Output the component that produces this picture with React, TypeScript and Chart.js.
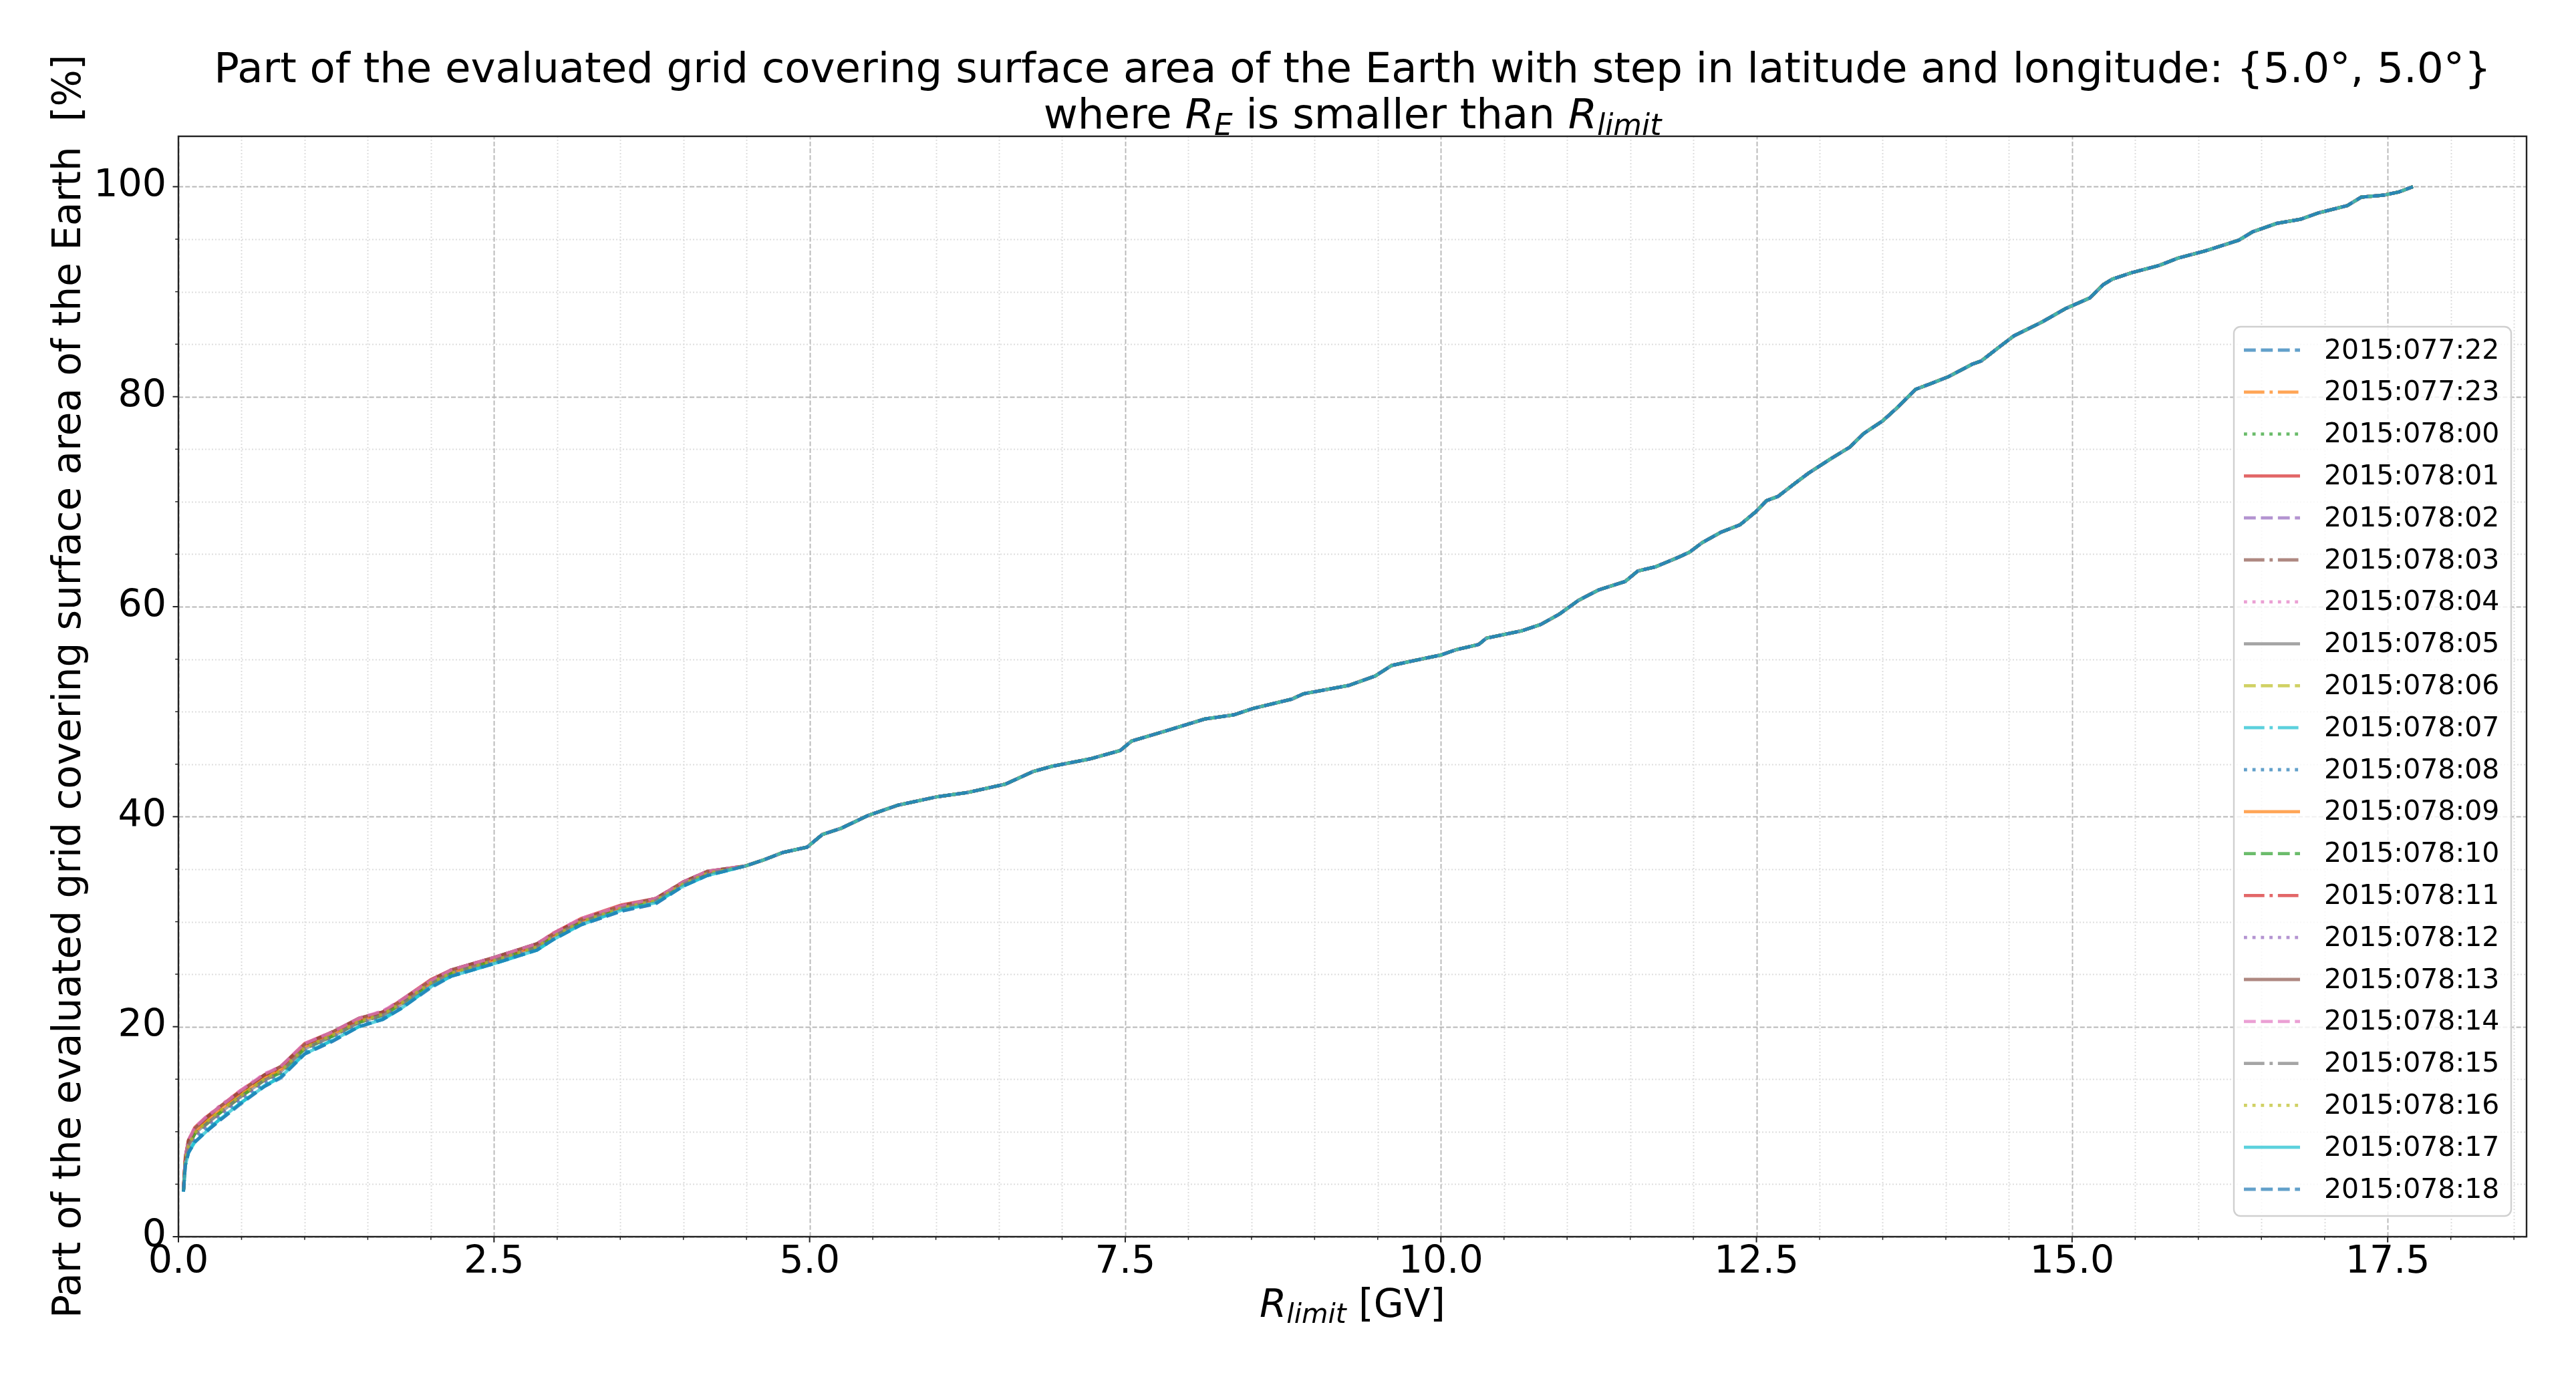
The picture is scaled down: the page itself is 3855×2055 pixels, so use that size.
import React, { useEffect, useRef } from 'react';
import { Chart, registerables } from 'chart.js';

Chart.register(...registerables);

const W = 3855;
const H = 2055;

// ---------------- DATA ----------------
const seriesLabels = [
  '2015:077:22', '2015:077:23', '2015:078:00', '2015:078:01', '2015:078:02', '2015:078:03',
  '2015:078:04', '2015:078:05', '2015:078:06', '2015:078:07', '2015:078:08', '2015:078:09',
  '2015:078:10', '2015:078:11', '2015:078:12', '2015:078:13', '2015:078:14', '2015:078:15',
  '2015:078:16', '2015:078:17', '2015:078:18',
];

// R_limit [GV] sample positions shared by every series
const rLimit = [
  0.04, 0.055, 0.08, 0.13, 0.21, 0.32, 0.49, 0.68, 0.81, 1.0, 1.22, 1.43, 1.62, 1.76, 2.0, 2.16,
  2.5, 2.84, 2.97, 3.19, 3.51, 3.78, 4.0, 4.19,
  4.49, 4.64, 4.79, 4.98, 5.1, 5.25, 5.46, 5.7, 6.01, 6.25, 6.55, 6.77, 6.92, 7.22, 7.46, 7.55,
  7.83, 8.13, 8.36, 8.51, 8.82, 8.91, 9.27, 9.48, 9.61, 9.76, 10.0, 10.12, 10.3, 10.36, 10.64,
  10.79, 10.94, 11.09, 11.25, 11.46, 11.56, 11.7, 11.88, 11.97, 12.07, 12.22, 12.37, 12.49,
  12.58, 12.67, 12.8, 12.91, 13.09, 13.24, 13.35, 13.5, 13.61, 13.76, 13.87, 14.02, 14.21,
  14.28, 14.43, 14.54, 14.76, 14.95, 15.14, 15.25, 15.32, 15.47, 15.69, 15.84, 16.06, 16.32,
  16.43, 16.62, 16.81, 16.95, 17.18, 17.29, 17.47, 17.59, 17.7,
];

// central curve [%]
const coverageBase = [
  4.4, 7.2, 8.6, 9.7, 10.6, 11.7, 13.3, 14.9, 15.7, 17.9, 19.1, 20.4, 21.1, 22.1, 24.1, 25.1,
  26.3, 27.6, 28.6, 30.0, 31.3, 32.0, 33.6, 34.6,
  35.3, 35.9, 36.6, 37.1, 38.3, 38.9, 40.1, 41.1, 41.9, 42.3, 43.1, 44.3, 44.8, 45.5, 46.3, 47.2,
  48.2, 49.3, 49.7, 50.3, 51.2, 51.7, 52.5, 53.4, 54.4, 54.8, 55.4, 55.9, 56.4, 57.0, 57.7,
  58.3, 59.3, 60.6, 61.6, 62.4, 63.4, 63.8, 64.7, 65.2, 66.1, 67.1, 67.8, 69.0,
  70.1, 70.5, 71.7, 72.7, 74.1, 75.2, 76.5, 77.7, 78.9, 80.7, 81.2, 81.9, 83.1,
  83.4, 84.8, 85.8, 87.1, 88.4, 89.4, 90.7, 91.2, 91.8, 92.5, 93.2, 93.9, 94.9,
  95.7, 96.5, 96.9, 97.5, 98.2, 99.0, 99.2, 99.5, 100.0,
];

// per-series departure from the central curve at low rigidity (first points), [%]
const dev_077_22 = [-0.1, -0.4, -0.6, -0.7, -0.7, -0.7, -0.6, -0.6, -0.5, -0.5, -0.5, -0.4, -0.4, -0.4, -0.3, -0.3, -0.3, -0.3, -0.3, -0.3, -0.3, -0.3, -0.2, -0.2];
const dev_077_23 = [0.1, 0.3, 0.5, 0.5, 0.5, 0.5, 0.4, 0.4, 0.4, 0.3, 0.3, 0.3, 0.3, 0.3, 0.2, 0.2, 0.2, 0.2, 0.2, 0.2, 0.2, 0.1, 0.1, 0.1];
const dev_078_00 = [0.0, 0.2, 0.4, 0.4, 0.4, 0.4, 0.3, 0.3, 0.3, 0.3, 0.3, 0.2, 0.2, 0.3, 0.2, 0.2, 0.2, 0.2, 0.2, 0.2, 0.1, 0.1, 0.1, 0.1];
const dev_078_01 = [0.1, 0.4, 0.6, 0.7, 0.7, 0.6, 0.6, 0.5, 0.5, 0.5, 0.4, 0.4, 0.3, 0.4, 0.4, 0.3, 0.3, 0.3, 0.3, 0.3, 0.3, 0.2, 0.2, 0.2];
const dev_078_02 = [0.0, 0.1, 0.1, 0.2, 0.1, 0.1, 0.1, 0.1, 0.1, 0.1, 0.0, 0.0, 0.1, 0.1, 0.0, 0.0, 0.0, 0.0, 0.1, 0.0, 0.0, 0.0, 0.0, 0.0];
const dev_078_03 = [0.1, 0.4, 0.6, 0.6, 0.6, 0.6, 0.5, 0.5, 0.5, 0.4, 0.4, 0.3, 0.3, 0.4, 0.3, 0.3, 0.3, 0.3, 0.3, 0.2, 0.2, 0.2, 0.2, 0.2];
const dev_078_04 = [0.1, 0.4, 0.6, 0.7, 0.7, 0.7, 0.6, 0.6, 0.5, 0.5, 0.4, 0.4, 0.4, 0.4, 0.3, 0.3, 0.3, 0.3, 0.3, 0.3, 0.2, 0.2, 0.2, 0.2];
const dev_078_05 = [0.0, 0.0, 0.1, 0.1, 0.1, 0.0, 0.0, 0.0, 0.0, 0.0, 0.0, 0.0, 0.0, 0.0, 0.0, 0.0, 0.0, 0.0, 0.0, 0.0, 0.0, 0.0, 0.0, 0.0];
const dev_078_06 = [0.0, 0.1, 0.2, 0.2, 0.2, 0.1, 0.1, 0.1, 0.1, 0.1, 0.1, 0.1, 0.0, 0.1, 0.1, 0.0, 0.0, 0.1, 0.0, 0.0, 0.0, 0.0, 0.0, 0.0];
const dev_078_07 = [-0.1, -0.4, -0.5, -0.6, -0.6, -0.6, -0.6, -0.5, -0.5, -0.4, -0.4, -0.4, -0.3, -0.4, -0.3, -0.3, -0.3, -0.3, -0.3, -0.2, -0.2, -0.2, -0.2, -0.2];
const dev_078_08 = [-0.1, -0.2, -0.3, -0.4, -0.4, -0.4, -0.3, -0.3, -0.3, -0.3, -0.2, -0.2, -0.2, -0.2, -0.2, -0.2, -0.2, -0.1, -0.1, -0.1, -0.1, -0.1, -0.1, -0.1];
const dev_078_09 = [0.0, 0.2, 0.3, 0.3, 0.3, 0.3, 0.3, 0.2, 0.2, 0.2, 0.2, 0.2, 0.2, 0.2, 0.1, 0.1, 0.1, 0.1, 0.1, 0.1, 0.1, 0.1, 0.1, 0.0];
const dev_078_10 = [0.0, 0.0, 0.0, 0.1, 0.0, 0.0, 0.0, 0.0, -0.1, 0.0, 0.0, 0.0, 0.0, 0.0, 0.0, 0.0, 0.0, 0.0, 0.0, 0.0, 0.0, 0.0, 0.0, 0.0];
const dev_078_11 = [0.1, 0.3, 0.5, 0.6, 0.6, 0.6, 0.5, 0.5, 0.4, 0.4, 0.4, 0.3, 0.3, 0.3, 0.3, 0.3, 0.2, 0.2, 0.3, 0.2, 0.2, 0.2, 0.2, 0.1];
const dev_078_12 = [0.0, -0.1, -0.1, -0.1, -0.1, -0.1, -0.1, -0.1, 0.0, 0.0, 0.0, 0.0, 0.0, 0.0, 0.0, 0.0, 0.0, 0.0, 0.0, 0.0, 0.0, 0.0, 0.0, 0.0];
const dev_078_13 = [0.1, 0.4, 0.5, 0.6, 0.6, 0.6, 0.5, 0.5, 0.5, 0.4, 0.4, 0.4, 0.3, 0.3, 0.3, 0.3, 0.3, 0.3, 0.2, 0.2, 0.2, 0.2, 0.2, 0.2];
const dev_078_14 = [0.1, 0.4, 0.6, 0.7, 0.7, 0.6, 0.6, 0.6, 0.5, 0.5, 0.4, 0.4, 0.4, 0.4, 0.3, 0.3, 0.3, 0.3, 0.3, 0.3, 0.2, 0.2, 0.2, 0.2];
const dev_078_15 = [0.0, 0.0, 0.1, 0.0, 0.0, 0.0, 0.0, 0.0, 0.0, 0.0, 0.0, 0.0, 0.0, 0.0, 0.0, 0.0, 0.0, 0.0, 0.0, 0.0, 0.0, 0.0, 0.0, 0.0];
const dev_078_16 = [0.0, 0.1, 0.1, 0.2, 0.2, 0.2, 0.1, 0.1, 0.1, 0.1, 0.1, 0.1, 0.1, 0.1, 0.1, 0.0, 0.0, 0.0, 0.0, 0.0, 0.0, 0.0, 0.0, 0.0];
const dev_078_17 = [-0.1, -0.4, -0.6, -0.7, -0.7, -0.6, -0.6, -0.6, -0.5, -0.5, -0.4, -0.4, -0.4, -0.4, -0.3, -0.3, -0.3, -0.3, -0.3, -0.3, -0.2, -0.2, -0.2, -0.2];
const dev_078_18 = [-0.1, -0.4, -0.6, -0.7, -0.7, -0.7, -0.7, -0.6, -0.6, -0.5, -0.5, -0.4, -0.4, -0.4, -0.4, -0.3, -0.3, -0.3, -0.3, -0.3, -0.3, -0.3, -0.2, -0.2];

const lowRangeDeviation = [
  dev_077_22, dev_077_23, dev_078_00, dev_078_01, dev_078_02, dev_078_03, dev_078_04,
  dev_078_05, dev_078_06, dev_078_07, dev_078_08, dev_078_09, dev_078_10, dev_078_11,
  dev_078_12, dev_078_13, dev_078_14, dev_078_15, dev_078_16, dev_078_17, dev_078_18,
];

const xMajorTicks = [0, 2.5, 5, 7.5, 10, 12.5, 15, 17.5];
const xTickLabels = ['0.0', '2.5', '5.0', '7.5', '10.0', '12.5', '15.0', '17.5'];
const yMajorTicks = [0, 20, 40, 60, 80, 100];
const yTickLabels = ['0', '20', '40', '60', '80', '100'];
const X_MIN = 0;
const X_MAX = 18.6;
const Y_MIN = 0;
const Y_MAX = 104.8;
const X_MINOR_STEP = 0.5;
const Y_MINOR_STEP = 5;

const titleLine1 =
  'Part of the evaluated grid covering surface area of the Earth with step in latitude and longitude: {5.0°, 5.0°}';
const yAxisTitle = 'Part of the evaluated grid covering surface area of the Earth  [%]';

// ---------------- STYLE ----------------
const FONT = '"DejaVu Sans", "Liberation Sans", sans-serif';
const tab10 = [
  [31, 119, 180], [255, 127, 14], [44, 160, 44], [214, 39, 40], [148, 103, 189],
  [140, 86, 75], [227, 119, 194], [127, 127, 127], [188, 189, 34], [23, 190, 207],
];
const LW = 4.8;
const dashPatterns: number[][] = [
  [3.7 * LW, 1.6 * LW],
  [6.4 * LW, 1.6 * LW, 1 * LW, 1.6 * LW],
  [1 * LW, 1.65 * LW],
  [],
];
const rgba = (c: number[], a: number) => `rgba(${c[0]},${c[1]},${c[2]},${a})`;

type Seg = { t: string; it?: boolean; sub?: boolean };

function drawRich(ctx: CanvasRenderingContext2D, segs: Seg[], cx: number, baseline: number, size: number) {
  const subSize = size * 0.7;
  const subDrop = size * 0.16;
  const fontOf = (s: Seg) => `${s.it ? 'italic ' : ''}${s.sub ? subSize : size}px ${FONT}`;
  let total = 0;
  const widths = segs.map((s) => {
    ctx.font = fontOf(s);
    const w = ctx.measureText(s.t).width;
    total += w;
    return w;
  });
  let x = cx - total / 2;
  ctx.textAlign = 'left';
  ctx.textBaseline = 'alphabetic';
  segs.forEach((s, i) => {
    ctx.font = fontOf(s);
    ctx.fillText(s.t, x, baseline + (s.sub ? subDrop : 0));
    x += widths[i];
  });
}

const isMultiple = (v: number, step: number) => Math.abs(v / step - Math.round(v / step)) < 1e-6;

const mplPlugin = {
  id: 'mplFrame',
  beforeDatasetsDraw(chart: any) {
    const { ctx, chartArea: a, scales } = chart;
    const xs = scales.x;
    const ys = scales.y;
    ctx.save();
    // minor grid
    ctx.strokeStyle = '#dcdcdc';
    ctx.lineWidth = 1.9;
    ctx.setLineDash([1.9, 3.1]);
    for (let v = X_MINOR_STEP; v < X_MAX; v += X_MINOR_STEP) {
      if (isMultiple(v, 2.5)) continue;
      const px = Math.round(xs.getPixelForValue(v)) + 0.5;
      ctx.beginPath(); ctx.moveTo(px, a.bottom); ctx.lineTo(px, a.top); ctx.stroke();
    }
    for (let v = Y_MINOR_STEP; v < Y_MAX; v += Y_MINOR_STEP) {
      if (isMultiple(v, 20)) continue;
      const py = Math.round(ys.getPixelForValue(v)) + 0.5;
      ctx.beginPath(); ctx.moveTo(a.left, py); ctx.lineTo(a.right, py); ctx.stroke();
    }
    // major grid
    ctx.strokeStyle = '#b8b8b8';
    ctx.lineWidth = 1.9;
    ctx.setLineDash([7.1, 3.1]);
    xMajorTicks.forEach((v) => {
      const px = Math.round(xs.getPixelForValue(v)) + 0.5;
      ctx.beginPath(); ctx.moveTo(px, a.bottom); ctx.lineTo(px, a.top); ctx.stroke();
    });
    yMajorTicks.forEach((v) => {
      const py = Math.round(ys.getPixelForValue(v)) + 0.5;
      ctx.beginPath(); ctx.moveTo(a.left, py); ctx.lineTo(a.right, py); ctx.stroke();
    });
    ctx.restore();
  },
  afterDatasetsDraw(chart: any) {
    const { ctx, chartArea: a, scales, data } = chart;
    const xs = scales.x;
    const ys = scales.y;
    ctx.save();
    ctx.setLineDash([]);
    // spines
    ctx.strokeStyle = '#222222';
    ctx.lineWidth = 2.4;
    ctx.strokeRect(a.left, a.top, a.right - a.left, a.bottom - a.top);
    // ticks
    ctx.lineWidth = 2;
    xMajorTicks.forEach((v) => {
      const px = xs.getPixelForValue(v);
      ctx.beginPath(); ctx.moveTo(px, a.bottom); ctx.lineTo(px, a.bottom + 8.5); ctx.stroke();
    });
    yMajorTicks.forEach((v) => {
      const py = ys.getPixelForValue(v);
      ctx.beginPath(); ctx.moveTo(a.left, py); ctx.lineTo(a.left - 8.5, py); ctx.stroke();
    });
    ctx.lineWidth = 1.5;
    for (let v = X_MINOR_STEP; v < X_MAX; v += X_MINOR_STEP) {
      if (isMultiple(v, 2.5)) continue;
      const px = xs.getPixelForValue(v);
      ctx.beginPath(); ctx.moveTo(px, a.bottom); ctx.lineTo(px, a.bottom + 4.8); ctx.stroke();
    }
    for (let v = Y_MINOR_STEP; v < Y_MAX; v += Y_MINOR_STEP) {
      if (isMultiple(v, 20)) continue;
      const py = ys.getPixelForValue(v);
      ctx.beginPath(); ctx.moveTo(a.left, py); ctx.lineTo(a.left - 4.8, py); ctx.stroke();
    }

    // titles
    ctx.fillStyle = '#000000';
    const cx = (a.left + a.right) / 2;
    ctx.font = `62.5px ${FONT}`;
    ctx.textAlign = 'center';
    ctx.textBaseline = 'alphabetic';
    ctx.fillText(titleLine1, cx, 123);
    drawRich(ctx, [
      { t: 'where ' }, { t: 'R', it: true }, { t: 'E', it: true, sub: true },
      { t: ' is smaller than ' }, { t: 'R', it: true }, { t: 'limit', it: true, sub: true },
    ], cx, 192, 62.5);
    drawRich(ctx, [
      { t: 'R', it: true }, { t: 'limit', it: true, sub: true }, { t: ' [GV]' },
    ], cx, 1971, 58);
    ctx.save();
    ctx.translate(120, (a.top + a.bottom) / 2);
    ctx.rotate(-Math.PI / 2);
    ctx.font = `58px ${FONT}`;
    ctx.textAlign = 'center';
    ctx.textBaseline = 'alphabetic';
    ctx.fillText(yAxisTitle, 0, 0);
    ctx.restore();

    // legend
    const lx = 3343, ly = 489, lw = 415, lh = 1331;
    ctx.beginPath();
    (ctx as any).roundRect(lx, ly, lw, lh, 10);
    ctx.fillStyle = 'rgba(255,255,255,0.8)';
    ctx.fill();
    ctx.strokeStyle = '#d0d0d0';
    ctx.lineWidth = 2.4;
    ctx.stroke();
    ctx.font = `41px ${FONT}`;
    ctx.textAlign = 'left';
    ctx.textBaseline = 'middle';
    data.datasets.forEach((ds: any, i: number) => {
      const cy = 524 + i * 62.8;
      ctx.strokeStyle = ds.borderColor;
      ctx.lineWidth = LW;
      ctx.lineCap = 'butt';
      ctx.setLineDash(ds.borderDash || []);
      ctx.beginPath(); ctx.moveTo(3358, cy); ctx.lineTo(3442, cy); ctx.stroke();
      ctx.setLineDash([]);
      ctx.fillStyle = '#000000';
      ctx.fillText(ds.label, 3478, cy + 2);
    });
    ctx.restore();
  },
};

export default function App() {
  const ref = useRef<HTMLCanvasElement | null>(null);

  useEffect(() => {
    const canvas = ref.current;
    if (!canvas) return;
    const datasets = seriesLabels.map((label, s) => ({
      label,
      data: rLimit.map((x, i) => ({
        x,
        y: Math.round((coverageBase[i] + (lowRangeDeviation[s][i] ?? 0)) * 100) / 100,
      })),
      borderColor: rgba(tab10[s % 10], 0.7),
      backgroundColor: rgba(tab10[s % 10], 0.7),
      borderWidth: LW,
      borderDash: dashPatterns[s % 4],
      borderCapStyle: 'butt' as const,
      pointRadius: 0,
      tension: 0,
      fill: false,
      order: seriesLabels.length - s,
    }));

    const chart = new Chart(canvas, {
      type: 'line',
      data: { datasets },
      options: {
        animation: false,
        responsive: false,
        devicePixelRatio: 1,
        layout: { padding: { top: 204, right: 74, bottom: 0, left: 0 } },
        plugins: {
          legend: { display: false },
          tooltip: { enabled: false },
          title: { display: false },
        },
        scales: {
          x: {
            type: 'linear',
            min: X_MIN,
            max: X_MAX,
            grid: { display: false, drawTicks: false },
            border: { display: false },
            afterBuildTicks: (scale: any) => {
              scale.ticks = xMajorTicks.map((v) => ({ value: v }));
            },
            afterFit: (scale: any) => {
              scale.height = 204;
            },
            ticks: {
              autoSkip: false,
              maxRotation: 0,
              padding: 5,
              color: '#000000',
              font: { family: FONT, size: 57 },
              callback: (v: any) => {
                const k = xMajorTicks.indexOf(Number(v));
                return k >= 0 ? xTickLabels[k] : '';
              },
            },
          },
          y: {
            type: 'linear',
            min: Y_MIN,
            max: Y_MAX,
            grid: { display: false, drawTicks: false },
            border: { display: false },
            afterBuildTicks: (scale: any) => {
              scale.ticks = yMajorTicks.map((v) => ({ value: v }));
            },
            afterFit: (scale: any) => {
              scale.width = 267;
            },
            ticks: {
              autoSkip: false,
              padding: 18,
              color: '#000000',
              font: { family: FONT, size: 57 },
              callback: (v: any) => {
                const k = yMajorTicks.indexOf(Number(v));
                return k >= 0 ? yTickLabels[k] : '';
              },
            },
          },
        },
      },
      plugins: [mplPlugin],
    } as any);

    return () => chart.destroy();
  }, []);

  return (
    <div style={{ position: 'fixed', left: 0, top: 0, width: W, height: H, background: '#ffffff' }}>
      <canvas ref={ref} width={W} height={H} style={{ width: W, height: H, display: 'block' }} />
    </div>
  );
}
